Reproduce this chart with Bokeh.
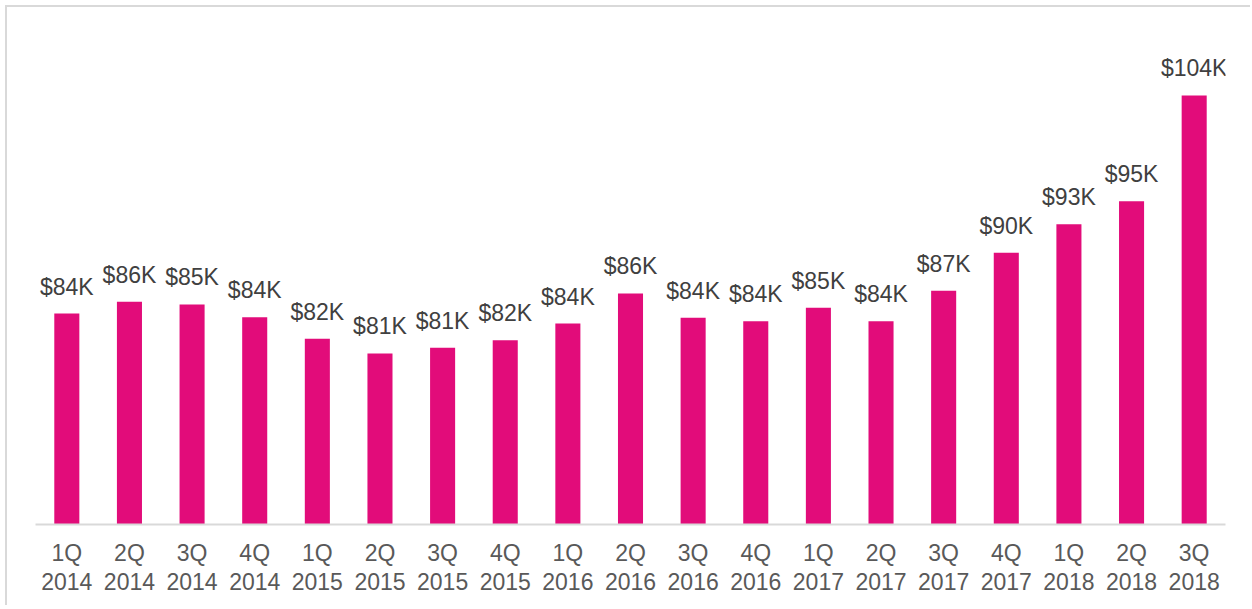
from bokeh.plotting import figure
from bokeh.models import ColumnDataSource, Range1d, FactorRange
from bokeh.core.properties import value
from bokeh.embed import file_html
from bokeh.resources import INLINE

quarters = ["1Q", "2Q", "3Q", "4Q", "1Q", "2Q", "3Q", "4Q", "1Q", "2Q",
            "3Q", "4Q", "1Q", "2Q", "3Q", "4Q", "1Q", "2Q", "3Q"]
years = ["2014", "2014", "2014", "2014", "2015", "2015", "2015", "2015", "2016", "2016",
         "2016", "2016", "2017", "2017", "2017", "2017", "2018", "2018", "2018"]
values_k = [84.46, 85.53, 85.28, 84.13, 82.16, 80.83, 81.34, 82.03, 83.55, 86.28,
            84.07, 83.76, 84.98, 83.76, 86.53, 89.98, 92.58, 94.67, 104.28]
labels = ["$84K", "$86K", "$85K", "$84K", "$82K", "$81K", "$81K", "$82K", "$84K", "$86K",
          "$84K", "$84K", "$85K", "$84K", "$87K", "$90K", "$93K", "$95K", "$104K"]

factors = [f"{q}\n{y}" for q, y in zip(quarters, years)]

BAR = "#E20C7A"
FONT = "Liberation Sans"

src = ColumnDataSource(dict(x=factors, v=values_k, lab=labels))

p = figure(x_range=FactorRange(*factors, range_padding=0),
           y_range=Range1d(65.28, 110.37),
           width=1245, height=600, output_backend="svg", toolbar_location=None,
           min_border_left=28, min_border_right=27, min_border_top=21, min_border_bottom=83)
p.styles = {"border-top": "2px solid #d9d9d9", "border-left": "2px solid #d9d9d9",
            "margin-top": "5px", "margin-left": "5px"}
p.outline_line_color = None
p.background_fill_color = "white"
p.border_fill_color = "white"

p.vbar(x="x", top="v", bottom=65.28, width=0.4, source=src,
       fill_color=BAR, line_color=None)

p.text(x="x", y="v", text="lab", source=src, text_align="center",
       text_baseline="alphabetic", y_offset=-27,
       text_font=value(FONT), text_font_size="23px", text_color="#404040")

p.yaxis.visible = False
p.xgrid.grid_line_color = None
p.ygrid.grid_line_color = None
xa = p.xaxis[0]
xa.axis_line_color = "#D9D9D9"
xa.axis_line_width = 2
xa.major_tick_line_color = None
xa.minor_tick_line_color = None
xa.major_label_text_font = FONT
xa.major_label_text_font_size = "23px"
xa.major_label_text_color = "#595959"
xa.major_label_text_line_height = 1.15
xa.major_label_standoff = 9
xa.major_label_orientation = "horizontal"

open("out.html", "w").write(file_html(p, INLINE))
